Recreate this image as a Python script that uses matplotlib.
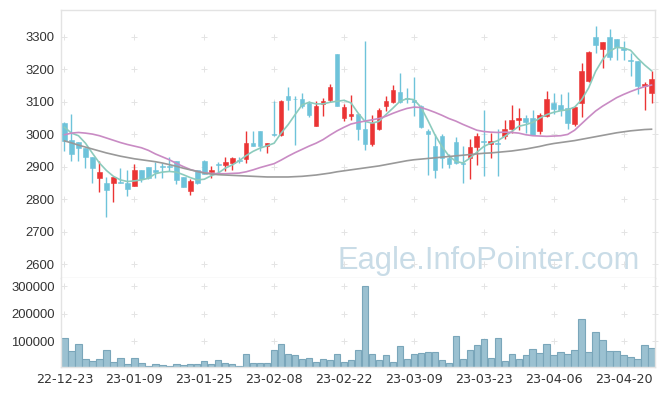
import matplotlib
matplotlib.use('Agg')
import matplotlib.pyplot as plt
import numpy as np

plt.rcParams['font.family'] = ['Liberation Sans', 'DejaVu Sans']

dates = ['22-12-23', '22-12-26', '22-12-27', '22-12-28', '22-12-29',
         '23-01-02', '23-01-03', '23-01-04', '23-01-05', '23-01-06',
         '23-01-09', '23-01-10', '23-01-11', '23-01-12', '23-01-13',
         '23-01-16', '23-01-17', '23-01-18', '23-01-19', '23-01-20',
         '23-01-25', '23-01-26', '23-01-27', '23-01-30', '23-01-31',
         '23-02-01', '23-02-02', '23-02-03', '23-02-06', '23-02-07',
         '23-02-08', '23-02-09', '23-02-10', '23-02-13', '23-02-14',
         '23-02-15', '23-02-16', '23-02-17', '23-02-20', '23-02-21',
         '23-02-22', '23-02-23', '23-02-24', '23-02-27', '23-02-28',
         '23-03-02', '23-03-03', '23-03-06', '23-03-07', '23-03-08',
         '23-03-09', '23-03-10', '23-03-13', '23-03-14', '23-03-15',
         '23-03-16', '23-03-17', '23-03-20', '23-03-21', '23-03-22',
         '23-03-23', '23-03-24', '23-03-27', '23-03-28', '23-03-29',
         '23-03-30', '23-03-31', '23-04-03', '23-04-04', '23-04-05',
         '23-04-06', '23-04-07', '23-04-10', '23-04-11', '23-04-12',
         '23-04-13', '23-04-14', '23-04-17', '23-04-18', '23-04-19',
         '23-04-20', '23-04-21', '23-04-24', '23-04-25', '23-04-26']

opens = [3034, 2982, 2975, 2958, 2930, 2866, 2850, 2848, 2851, 2850,
         2839, 2890, 2899, 2890, 2901, 2901, 2917, 2868, 2826, 2888,
         2917, 2882, 2908, 2906, 2912, 2921, 2923, 2972, 3010, 2962,
         3001, 2996, 3118, 3109, 3109, 3095, 3026, 3093, 3106, 3247,
         3051, 3055, 3062, 3016, 2970, 3016, 3085, 3100, 3130, 3110,
         3104, 3087, 3009, 2964, 2995, 2926, 2975, 2912, 2925, 2959,
         2977, 2968, 2972, 2993, 3015, 3042, 3050, 3050, 3008, 3057,
         3096, 3090, 3080, 3032, 3095, 3162, 3299, 3261, 3299, 3292,
         3265, 3228, 3226, 3147, 3128]
highs = [3036, 3061, 2977, 2958, 2930, 2916, 2867, 2868, 2895, 2890,
         2908, 2890, 2900, 2914, 2912, 2929, 2917, 2868, 2862, 2888,
         2921, 2902, 2915, 2931, 2931, 2931, 3010, 3008, 3010, 2973,
         3102, 3104, 3145, 3116, 3126, 3101, 3102, 3111, 3155, 3247,
         3093, 3120, 3062, 3287, 3058, 3080, 3118, 3151, 3188, 3141,
         3177, 3090, 3016, 3000, 3001, 2938, 2991, 2962, 2985, 3003,
         3075, 3003, 3016, 3044, 3090, 3080, 3058, 3075, 3064, 3133,
         3128, 3122, 3129, 3087, 3218, 3255, 3334, 3285, 3324, 3292,
         3288, 3249, 3226, 3161, 3193]
lows = [2948, 2916, 2918, 2895, 2849, 2821, 2746, 2792, 2848, 2808,
        2839, 2852, 2861, 2864, 2865, 2885, 2847, 2836, 2811, 2846,
        2876, 2864, 2877, 2885, 2890, 2912, 2912, 2962, 2949, 2941,
        2995, 2994, 3075, 2967, 3080, 3054, 3026, 3056, 3100, 3085,
        3039, 3044, 2982, 2952, 2964, 3013, 3070, 3095, 3095, 3095,
        3057, 3020, 2874, 2864, 2895, 2895, 2908, 2849, 2861, 2904,
        2872, 2927, 2872, 2986, 3003, 3013, 3003, 2997, 3000, 3054,
        3061, 3056, 3015, 3025, 3054, 3160, 3249, 3203, 3229, 3229,
        3229, 3179, 3124, 3073, 3095]
closes = [2980, 2939, 2956, 2928, 2897, 2884, 2828, 2868, 2849, 2832,
          2890, 2861, 2865, 2882, 2899, 2899, 2860, 2838, 2855, 2848,
          2878, 2890, 2906, 2915, 2925, 2919, 2973, 2964, 2962, 2973,
          2998, 3102, 3106, 3107, 3085, 3059, 3087, 3102, 3146, 3085,
          3084, 3063, 3015, 2971, 3034, 3075, 3102, 3136, 3100, 3108,
          3100, 3023, 3000, 2888, 2926, 2908, 2910, 2909, 2961, 2993,
          2975, 2979, 2970, 3016, 3044, 3050, 3038, 2998, 3058, 3109,
          3078, 3073, 3034, 3083, 3195, 3253, 3273, 3283, 3236, 3268,
          3258, 3226, 3147, 3155, 3170]
volumes = [110800, 65000, 89200, 34900, 27700, 34900, 67500, 24100, 38600, 16900,
           38600, 20500, 9600, 16900, 13300, 9600, 16900, 13300, 16900, 16900,
           28900, 16900, 31300, 20500, 16900, 9600, 53000, 20500, 20500, 20500,
           67500, 89200, 53000, 49400, 34900, 38600, 24100, 34900, 31300, 53000,
           24100, 31300, 67500, 300000, 53000, 31300, 49400, 24100, 81900, 34900,
           53000, 56600, 60200, 60200, 31300, 20500, 118000, 34900, 67500, 85500,
           107000, 38600, 110800, 27700, 53000, 34900, 49400, 71100, 56600, 89200,
           49400, 60200, 53000, 67500, 179500, 60200, 132500, 103600, 63900, 63900,
           49400, 42200, 34900, 85500, 74700]
ma5 = [3021, 3003, 2995, 2972, 2941, 2911, 2888, 2870, 2859, 2854,
       2856, 2859, 2864, 2878, 2883, 2885, 2883, 2875, 2866, 2859,
       2861, 2872, 2880, 2895, 2905, 2918, 2934, 2947, 2957, 2964,
       2972, 3003, 3029, 3060, 3090, 3098, 3093, 3093, 3098, 3101,
       3104, 3096, 3065, 3039, 3034, 3039, 3060, 3080, 3101, 3109,
       3106, 3083, 3042, 2998, 2962, 2933, 2916, 2911, 2926, 2944,
       2962, 2972, 2980, 2993, 3008, 3024, 3029, 3036, 3049, 3060,
       3067, 3072, 3075, 3083, 3106, 3142, 3193, 3229, 3255, 3267,
       3265, 3258, 3234, 3213, 3195]
ma20 = [2998, 3003, 3005, 3003, 3000, 2995, 2988, 2981, 2974, 2968,
        2963, 2958, 2950, 2939, 2930, 2921, 2910, 2900, 2891, 2885,
        2881, 2879, 2878, 2878, 2879, 2880, 2884, 2890, 2897, 2903,
        2909, 2920, 2932, 2943, 2953, 2963, 2972, 2983, 2997, 3010,
        3021, 3031, 3036, 3040, 3044, 3048, 3055, 3064, 3072, 3079,
        3083, 3082, 3075, 3067, 3058, 3048, 3040, 3030, 3021, 3012,
        3008, 3006, 3005, 3006, 3005, 3003, 2998, 2995, 2994, 2993,
        2994, 2995, 2999, 3012, 3032, 3052, 3071, 3086, 3099, 3112,
        3122, 3131, 3139, 3146, 3151]
ma60 = [2979, 2973, 2966, 2960, 2954, 2948, 2942, 2937, 2932, 2928,
        2924, 2921, 2918, 2915, 2911, 2906, 2901, 2895, 2890, 2885,
        2880, 2877, 2875, 2874, 2873, 2872, 2871, 2870, 2869, 2868,
        2868, 2868, 2868, 2869, 2870, 2872, 2874, 2877, 2880, 2884,
        2887, 2890, 2893, 2896, 2899, 2902, 2906, 2910, 2914, 2918,
        2921, 2923, 2925, 2927, 2929, 2931, 2933, 2935, 2937, 2939,
        2941, 2942, 2944, 2946, 2948, 2951, 2954, 2958, 2962, 2967,
        2971, 2974, 2977, 2980, 2984, 2988, 2992, 2996, 3000, 3004,
        3007, 3010, 3012, 3014, 3015]
price_ticks = [2600, 2700, 2800, 2900, 3000, 3100, 3200, 3300]
volume_ticks = [100000, 200000, 300000]

RED = '#eb3434'
BLUE = '#6ec3da'
GRID = '#e3e3e3'
TXT = '#333333'

W, H = 665, 396
fig = plt.figure(figsize=(W / 100, H / 100), dpi=100)


def rect(l, t, r, b):
    return [l / W, 1 - b / H, (r - l) / W, (b - t) / H]


axp = fig.add_axes(rect(61, 10, 655, 278))
axv = fig.add_axes(rect(61, 278, 655, 367))

n = len(dates)
x = np.arange(n)
o = np.array(opens, float)
c = np.array(closes, float)
hi = np.array(highs, float)
lo = np.array(lows, float)
up = c >= o
cols = np.where(up, RED, BLUE)

for ax in (axp, axv):
    ax.set_xlim(-0.5, n - 0.5)
    for s in ax.spines.values():
        s.set_color(GRID)
        s.set_linewidth(1)
axp.set_ylim(2557, 3382)
axv.set_ylim(7600, 329000)
axv.spines['top'].set_visible(False)

# grid "+" markers
xs_plus = list(range(0, n, 10)) + [n - 0.5]
for yv in price_ticks:
    axp.plot(xs_plus, [yv] * len(xs_plus), ls='none', marker='+', ms=4,
             mew=0.7, color='#e4e4e4', zorder=1, clip_on=False)
for yv in volume_ticks:
    axv.plot(xs_plus, [yv] * len(xs_plus), ls='none', marker='+', ms=4,
             mew=0.7, color='#e4e4e4', zorder=1, clip_on=False)

# candles
axp.vlines(x, lo, hi, colors=cols, lw=1.0, zorder=2)
body_h = np.abs(c - o)
mid = (c + o) / 2
body_h = np.maximum(body_h, 3)
axp.bar(x, body_h, bottom=mid - body_h / 2, width=0.66, color=cols,
        edgecolor=cols, lw=0.4, zorder=3)

# moving averages
axp.plot(x, ma5, color='#8ccbbd', lw=1.2, zorder=4)
axp.plot(x, ma20, color='#c98bc4', lw=1.2, zorder=4)
axp.plot(x, ma60, color='#999999', lw=1.2, zorder=4)

# watermark
fig.text(338 / W, 1 - 268.5 / H, 'Eagle.InfoPointer.com', ha='left',
         va='baseline', fontsize=22.2, color='#c9dce7',
         family=['Liberation Sans', 'DejaVu Sans'], zorder=0)

# volume
axv.bar(x, volumes, width=0.92, color='#9bc1d1', edgecolor='#7aa6ba',
        lw=0.8, zorder=2)

# ticks
axp.set_yticks(price_ticks)
axp.set_yticklabels([str(t) for t in price_ticks])
axp.set_xticks([])
axp.tick_params(axis='y', length=0, pad=4.5, labelsize=9.4, labelcolor=TXT)

axv.set_yticks(volume_ticks)
axv.set_yticklabels([str(t) for t in volume_ticks])
tick_idx = list(range(0, n, 10))
axv.set_xticks(tick_idx)
axv.set_xticklabels([dates[i] for i in tick_idx],
                    family=['DejaVu Sans'], fontsize=9.2)
axv.tick_params(axis='both', length=0, labelcolor=TXT)
axv.tick_params(axis='y', pad=4.5, labelsize=9.4)
axv.tick_params(axis='x', pad=4)

fig.savefig('out.png', dpi=100)
